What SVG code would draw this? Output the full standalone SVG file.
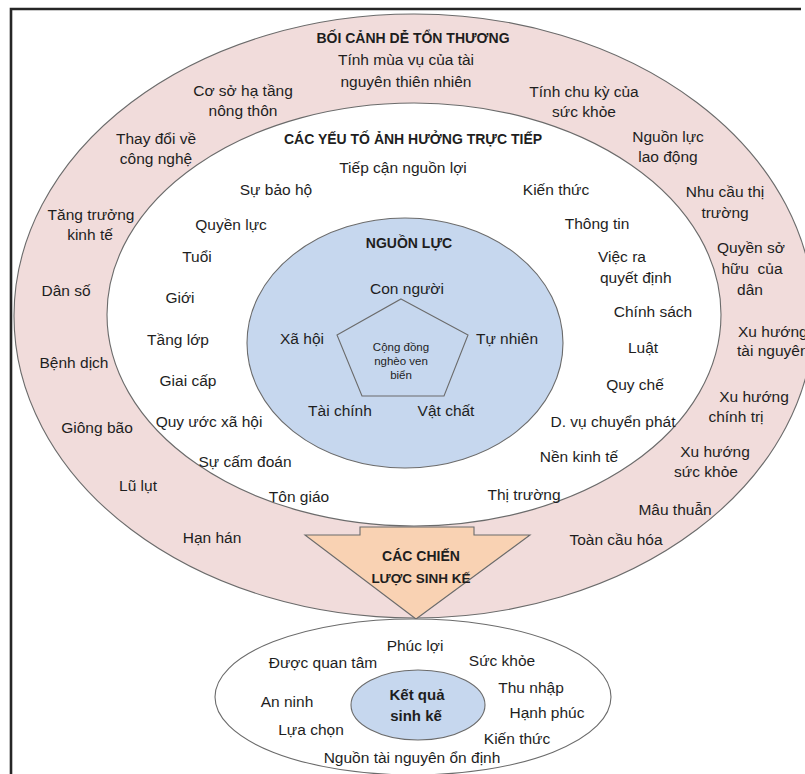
<svg xmlns="http://www.w3.org/2000/svg" width="805" height="774" viewBox="0 0 805 774">
  <style>
    text { font-family: "Liberation Sans", Arial, sans-serif; fill: #1e1e1e; text-anchor: middle; }
    .t { font-size: 15.5px; }
    .h { font-size: 14px; font-weight: bold; }
    .s { font-size: 11.5px; }
    .st { text-anchor: start; }
    .ring { stroke: #6b6b6b; stroke-width: 1.1; }
  </style>

  <rect width="805" height="774" fill="#ffffff"/>

  <!-- outer frame (only the top and left edges fall inside the canvas) -->
  <path d="M801,9 H11 V774" fill="none" stroke="#262626" stroke-width="2.6"/>

  <!-- vulnerability context ring -->
  <g id="vulnerability-context">
    <ellipse class="ring" cx="414" cy="316" rx="400" ry="302" fill="#f1dcdb"/>
    <text class="h" x="413" y="43">BỐI CẢNH DỄ TỔN THƯƠNG</text>
    <text class="t" x="406" y="65">Tính mùa vụ của tài</text>
    <text class="t" x="406" y="87">nguyên thiên nhiên</text>
    <text class="t" x="243" y="96">Cơ sở hạ tầng</text>
    <text class="t" x="243" y="116">nông thôn</text>
    <text class="t" x="584" y="97">Tính chu kỳ của</text>
    <text class="t" x="584" y="117">sức khỏe</text>
    <text class="t" x="156" y="144">Thay đổi về</text>
    <text class="t" x="156" y="164">công nghệ</text>
    <text class="t" x="668" y="142">Nguồn lực</text>
    <text class="t" x="668" y="162">lao động</text>
    <text class="t" x="725" y="197">Nhu cầu thị</text>
    <text class="t" x="725" y="218">trường</text>
    <text class="t" x="91" y="220">Tăng trưởng</text>
    <text class="t" x="90" y="240">kinh tế</text>
    <text class="t" x="751" y="253">Quyền sở</text>
    <text class="t" x="752" y="274" xml:space="preserve">hữu  của</text>
    <text class="t" x="750" y="295">dân</text>
    <text class="t" x="66" y="296">Dân số</text>
    <text class="t st" x="738" y="337">Xu hướng</text>
    <text class="t st" x="737" y="356">tài nguyên</text>
    <text class="t" x="74" y="368">Bệnh dịch</text>
    <text class="t" x="754" y="402">Xu hướng</text>
    <text class="t" x="736" y="422">chính trị</text>
    <text class="t" x="97" y="433">Giông bão</text>
    <text class="t" x="715" y="457">Xu hướng</text>
    <text class="t" x="706" y="477">sức khỏe</text>
    <text class="t" x="138" y="491">Lũ lụt</text>
    <text class="t" x="675" y="515">Mâu thuẫn</text>
    <text class="t" x="212" y="543">Hạn hán</text>
    <text class="t" x="616" y="545">Toàn cầu hóa</text>
  </g>

  <!-- direct influence factors -->
  <g id="direct-factors">
    <ellipse class="ring" cx="414" cy="314.5" rx="307" ry="211.5" fill="#ffffff"/>
    <text class="h" x="413" y="144">CÁC YẾU TỐ ẢNH HƯỞNG TRỰC TIẾP</text>
    <text class="t" x="403" y="173">Tiếp cận nguồn lợi</text>
    <text class="t" x="276" y="195">Sự bảo hộ</text>
    <text class="t" x="556" y="195">Kiến thức</text>
    <text class="t" x="231" y="230">Quyền lực</text>
    <text class="t" x="597" y="229">Thông tin</text>
    <text class="t" x="197" y="262">Tuổi</text>
    <text class="t st" x="598" y="262">Việc ra</text>
    <text class="t st" x="600" y="283">quyết định</text>
    <text class="t" x="180" y="303">Giới</text>
    <text class="t" x="653" y="317">Chính sách</text>
    <text class="t" x="178" y="345">Tầng lớp</text>
    <text class="t" x="643" y="353">Luật</text>
    <text class="t" x="188" y="386">Giai cấp</text>
    <text class="t" x="635" y="390">Quy chế</text>
    <text class="t" x="209" y="427">Quy ước xã hội</text>
    <text class="t" x="613" y="427">D. vụ chuyển phát</text>
    <text class="t" x="245" y="467">Sự cấm đoán</text>
    <text class="t" x="579" y="462">Nền kinh tế</text>
    <text class="t" x="299" y="502">Tôn giáo</text>
    <text class="t" x="524" y="500">Thị trường</text>
  </g>

  <!-- livelihood assets -->
  <g id="assets">
    <ellipse class="ring" cx="405" cy="343" rx="158" ry="125" fill="#c6d7ee"/>
    <polygon class="ring" points="401,299 468,335 444,396 362,396 337,335" fill="#c6d7ee"/>
    <text class="h" x="409" y="248">NGUỒN LỰC</text>
    <text class="t" x="407" y="294">Con người</text>
    <text class="t" x="302" y="344">Xã hội</text>
    <text class="t" x="507" y="344">Tự nhiên</text>
    <text class="t" x="340" y="416">Tài chính</text>
    <text class="t" x="446" y="416">Vật chất</text>
    <text class="s" x="401" y="351">Cộng đồng</text>
    <text class="s" x="401" y="365">nghèo ven</text>
    <text class="s" x="401" y="379">biển</text>
  </g>

  <!-- livelihood strategies arrow -->
  <g id="strategies">
    <polygon class="ring" points="305,535 360,535 360,527 474,527 474,535 530,535 416,619" fill="#f9d2b3"/>
    <text class="h" x="421" y="561">CÁC CHIẾN</text>
    <text class="h" x="421" y="583" style="font-size:13.5px">LƯỢC SINH KẾ</text>
  </g>

  <!-- livelihood outcomes -->
  <g id="outcomes">
    <ellipse class="ring" cx="413" cy="697" rx="198" ry="78" fill="#ffffff"/>
    <ellipse class="ring" cx="418" cy="705" rx="67" ry="35" fill="#c6d7ee"/>
    <text class="h" x="417" y="700" style="font-size:15px">Kết quả</text>
    <text class="h" x="416" y="721" style="font-size:15px">sinh kế</text>
    <text class="t" x="415" y="651">Phúc lợi</text>
    <text class="t" x="323" y="668">Được quan tâm</text>
    <text class="t" x="502" y="666">Sức khỏe</text>
    <text class="t" x="531" y="693">Thu nhập</text>
    <text class="t" x="287" y="707">An ninh</text>
    <text class="t" x="547" y="718">Hạnh phúc</text>
    <text class="t" x="311" y="735">Lựa chọn</text>
    <text class="t" x="517" y="744">Kiến thức</text>
    <text class="t" x="412" y="763">Nguồn tài nguyên ổn định</text>
  </g>

  <!-- connectors: none beyond the nested shapes -->
  <g id="connectors"></g>
</svg>
